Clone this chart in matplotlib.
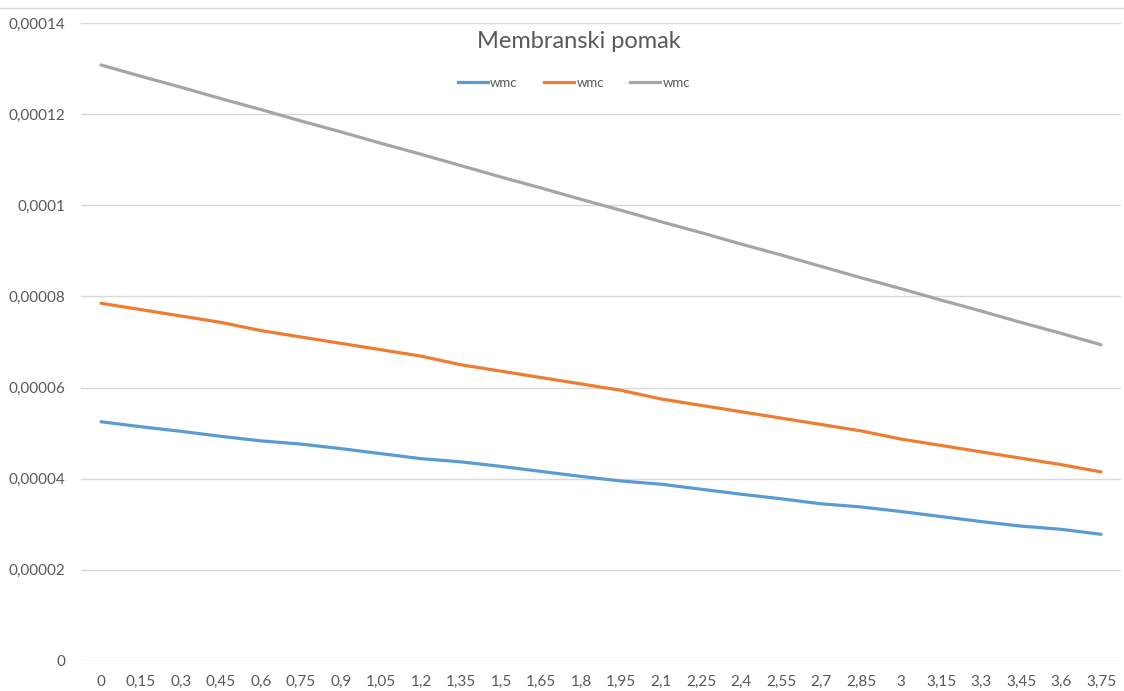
import matplotlib
matplotlib.use("Agg")
import matplotlib.pyplot as plt
from matplotlib.lines import Line2D

categories = ["0", "0,15", "0,3", "0,45", "0,6", "0,75", "0,9", "1,05", "1,2", "1,35",
              "1,5", "1,65", "1,8", "1,95", "2,1", "2,25", "2,4", "2,55", "2,7", "2,85",
              "3", "3,15", "3,3", "3,45", "3,6", "3,75"]

wmc_blue = [52.5, 51.4, 50.4, 49.3, 48.3, 47.6, 46.6, 45.5, 44.4, 43.7,
            42.7, 41.6, 40.5, 39.5, 38.8, 37.7, 36.6, 35.6, 34.5, 33.8,
            32.8, 31.7, 30.6, 29.6, 28.9, 27.8]
wmc_orange = [78.5, 77.1, 75.7, 74.3, 72.5, 71.1, 69.7, 68.3, 66.9, 65.0,
              63.6, 62.2, 60.8, 59.4, 57.5, 56.1, 54.7, 53.3, 51.9, 50.5,
              48.7, 47.3, 45.9, 44.5, 43.1, 41.5]
wmc_grey = [130.8, 128.3, 125.9, 123.4, 121.0, 118.5, 116.1, 113.6, 111.2, 108.7,
            106.2, 103.8, 101.3, 98.9, 96.4, 94.0, 91.5, 89.1, 86.6, 84.1,
            81.7, 79.2, 76.8, 74.3, 71.9, 69.4]
scale = 1e-6

series_names = ["wmc", "wmc", "wmc"]
colors = ["#5B9BD5", "#ED7D31", "#A5A5A5"]
y_ticks = [0, 0.00002, 0.00004, 0.00006, 0.00008, 0.0001, 0.00012, 0.00014]
y_labels = ["0", "0,00002", "0,00004", "0,00006", "0,00008", "0,0001", "0,00012", "0,00014"]
title = "Membranski pomak"

plt.rcParams['font.family'] = ['Lato', 'DejaVu Sans']
text_color = "#595959"

fig = plt.figure(figsize=(11.24, 6.91), dpi=100)
ax = fig.add_axes([81 / 1124, 1 - 661 / 691, 1040 / 1124, (661 - 23) / 691])

x = list(range(len(categories)))
for vals, c, name in zip([wmc_blue, wmc_orange, wmc_grey], colors, series_names):
    ax.plot(x, [v * scale for v in vals], color=c, lw=2.3, label=name,
            solid_capstyle="round", solid_joinstyle="round")

ax.set_xlim(-0.5, len(categories) - 0.5)
ax.set_ylim(0, 0.00014)
ax.set_yticks(y_ticks)
ax.set_yticklabels(y_labels)
ax.set_xticks(x)
ax.set_xticklabels(categories)
ax.tick_params(axis="both", length=0, labelsize=11, colors=text_color)
ax.tick_params(axis="y", pad=11.5)
ax.tick_params(axis="x", pad=10)
ax.grid(axis="y", color="#D9D9D9", lw=1)
ax.set_axisbelow(True)
for s in ax.spines.values():
    s.set_visible(False)

fig.text(579 / 1124, 1 - 42 / 691, title, ha="center", va="center",
         fontsize=17, color=text_color)

handles = [Line2D([], [], color=c, lw=2.3) for c in colors]
fig.legend(handles, series_names, loc="center", bbox_to_anchor=(574 / 1124, 1 - 83 / 691),
           ncol=3, frameon=False, fontsize=9.5, handlelength=2.25, handletextpad=0.2,
           columnspacing=2.0, labelcolor=text_color)

fig.add_artist(Line2D([0, 1], [1 - 8 / 691, 1 - 8 / 691], transform=fig.transFigure,
                      color="#D9D9D9", lw=1))

fig.savefig("out.png", dpi=100, facecolor="white")
